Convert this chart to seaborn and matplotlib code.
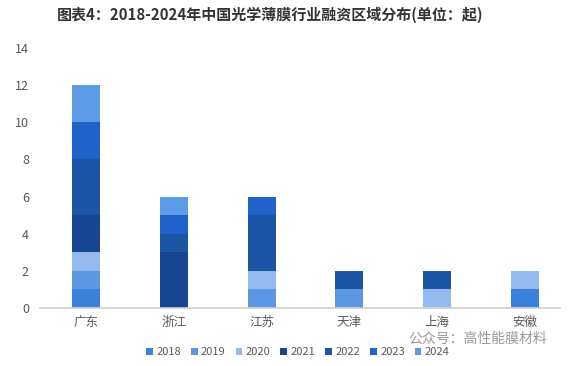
import matplotlib
matplotlib.use("Agg")
import matplotlib.pyplot as plt
import seaborn as sns
import pandas as pd
import numpy as np

regions = ["广东", "浙江", "江苏", "天津", "上海", "安徽"]
years = ["2018", "2019", "2020", "2021", "2022", "2023", "2024"]
v2018 = [1, 0, 0, 0, 0, 1]
v2019 = [1, 0, 1, 1, 0, 0]
v2020 = [1, 0, 1, 0, 1, 1]
v2021 = [2, 3, 0, 0, 0, 0]
v2022 = [3, 1, 3, 1, 1, 0]
v2023 = [2, 1, 1, 0, 0, 0]
v2024 = [2, 1, 0, 0, 0, 0]
yticks = [0, 2, 4, 6, 8, 10, 12, 14]
colors = ["#3A82DC", "#5B97E2", "#93B9EE", "#174592", "#1C54A6", "#1F63CA", "#5E9BE6"]

series = [v2018, v2019, v2020, v2021, v2022, v2023, v2024]

sns.set_theme(style="white")
plt.rcParams['font.family'] = ['Noto Sans CJK SC', 'DejaVu Sans']

fig = plt.figure(figsize=(5.69, 3.66), dpi=100)
ax = fig.add_axes([40/569, 1-308/366, (560-40)/569, (308-48)/366])

bottom = np.zeros(len(regions))
for yr, vals, col in zip(years, series, colors):
    df = pd.DataFrame({"region": regions, "value": vals})
    sns.barplot(data=df, x="region", y="value", color=col, width=0.32,
                bottom=bottom, ax=ax, label=yr, saturation=1, linewidth=0)
    bottom = bottom + np.array(vals)

ax.set_ylim(0, 14)
ax.set_xlim(-0.524, 5.40)
ax.set_yticks(yticks)
ax.set_xlabel("")
ax.set_ylabel("")
for s in ["top", "right", "left"]:
    ax.spines[s].set_visible(False)
ax.spines["bottom"].set_color("#D0D0D0")
ax.tick_params(axis="both", length=0, labelsize=9, colors="#595959")
ax.tick_params(axis="y", pad=8)
ax.tick_params(axis="x", pad=6)

handles, labels = ax.get_legend_handles_labels()
if ax.get_legend() is not None:
    ax.get_legend().remove()
fig.legend(handles, labels, loc="center", bbox_to_anchor=(298/569, 1-352/366),
           ncol=7, frameon=False, fontsize=8, handlelength=0.6, handleheight=0.6,
           handletextpad=0.3, columnspacing=0.9, labelcolor="#595959")

fig.text(270/569, 1-15/366, "图表4：2018-2024年中国光学薄膜行业融资区域分布(单位：起)",
         ha="center", va="center", fontsize=10.8, fontweight="bold", color="#333333")
fig.text(478/569, 1-339/366, "公众号：高性能膜材料", ha="center", va="center",
         fontsize=10, color="#9A9A9A")

fig.savefig("out.png", dpi=100)
